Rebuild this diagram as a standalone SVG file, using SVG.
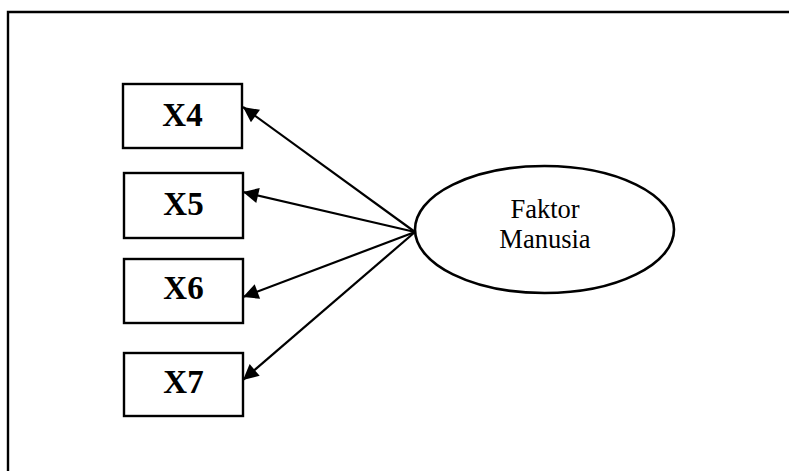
<svg xmlns="http://www.w3.org/2000/svg" width="789" height="471" viewBox="0 0 789 471">
  <defs>
    <marker id="arrow" viewBox="0 0 10 10" refX="10" refY="5" markerWidth="9" markerHeight="7" markerUnits="strokeWidth" orient="auto">
      <path d="M0,0 L10,5 L0,10 Z" fill="#000"/>
    </marker>
  </defs>
  <style>
    .frame { fill: none; stroke: #000; stroke-width: 2.4; }
    .box { fill: #fff; stroke: #000; stroke-width: 2.4; }
    .ell { fill: #fff; stroke: #000; stroke-width: 2.6; }
    .lbl { font-family: "Liberation Serif", "Times New Roman", serif; font-weight: bold; font-size: 33px; text-anchor: middle; fill: #000; }
    .elbl { font-family: "Liberation Serif", "Times New Roman", serif; font-size: 26.5px; text-anchor: middle; fill: #000; }
    .conn { stroke: #000; stroke-width: 2.2; fill: none; marker-end: url(#arrow); }
  </style>
  <rect width="789" height="471" fill="#fff"/>
  <!-- outer frame, open on the right and bottom -->
  <path class="frame" d="M8,480 V12 H800"/>

  <g id="connectors">
    <line class="conn" x1="415" y1="232" x2="243" y2="107"/>
    <line class="conn" x1="415" y1="232" x2="243" y2="192"/>
    <line class="conn" x1="415" y1="232" x2="243" y2="297"/>
    <line class="conn" x1="415" y1="232" x2="243" y2="380"/>
  </g>

  <g id="x4">
    <rect class="box" x="123" y="84" width="119" height="64"/>
    <text class="lbl" x="182.5" y="126">X4</text>
  </g>
  <g id="x5">
    <rect class="box" x="124" y="173" width="119" height="65"/>
    <text class="lbl" x="183.5" y="215">X5</text>
  </g>
  <g id="x6">
    <rect class="box" x="124" y="259" width="119" height="64"/>
    <text class="lbl" x="183.5" y="299">X6</text>
  </g>
  <g id="x7">
    <rect class="box" x="124" y="353" width="119" height="63"/>
    <text class="lbl" x="183.5" y="393">X7</text>
  </g>

  <g id="faktor-manusia">
    <ellipse class="ell" cx="544.5" cy="229.5" rx="129.5" ry="63.5"/>
    <text class="elbl" x="545" y="218">Faktor</text>
    <text class="elbl" x="545" y="248">Manusia</text>
  </g>
</svg>
